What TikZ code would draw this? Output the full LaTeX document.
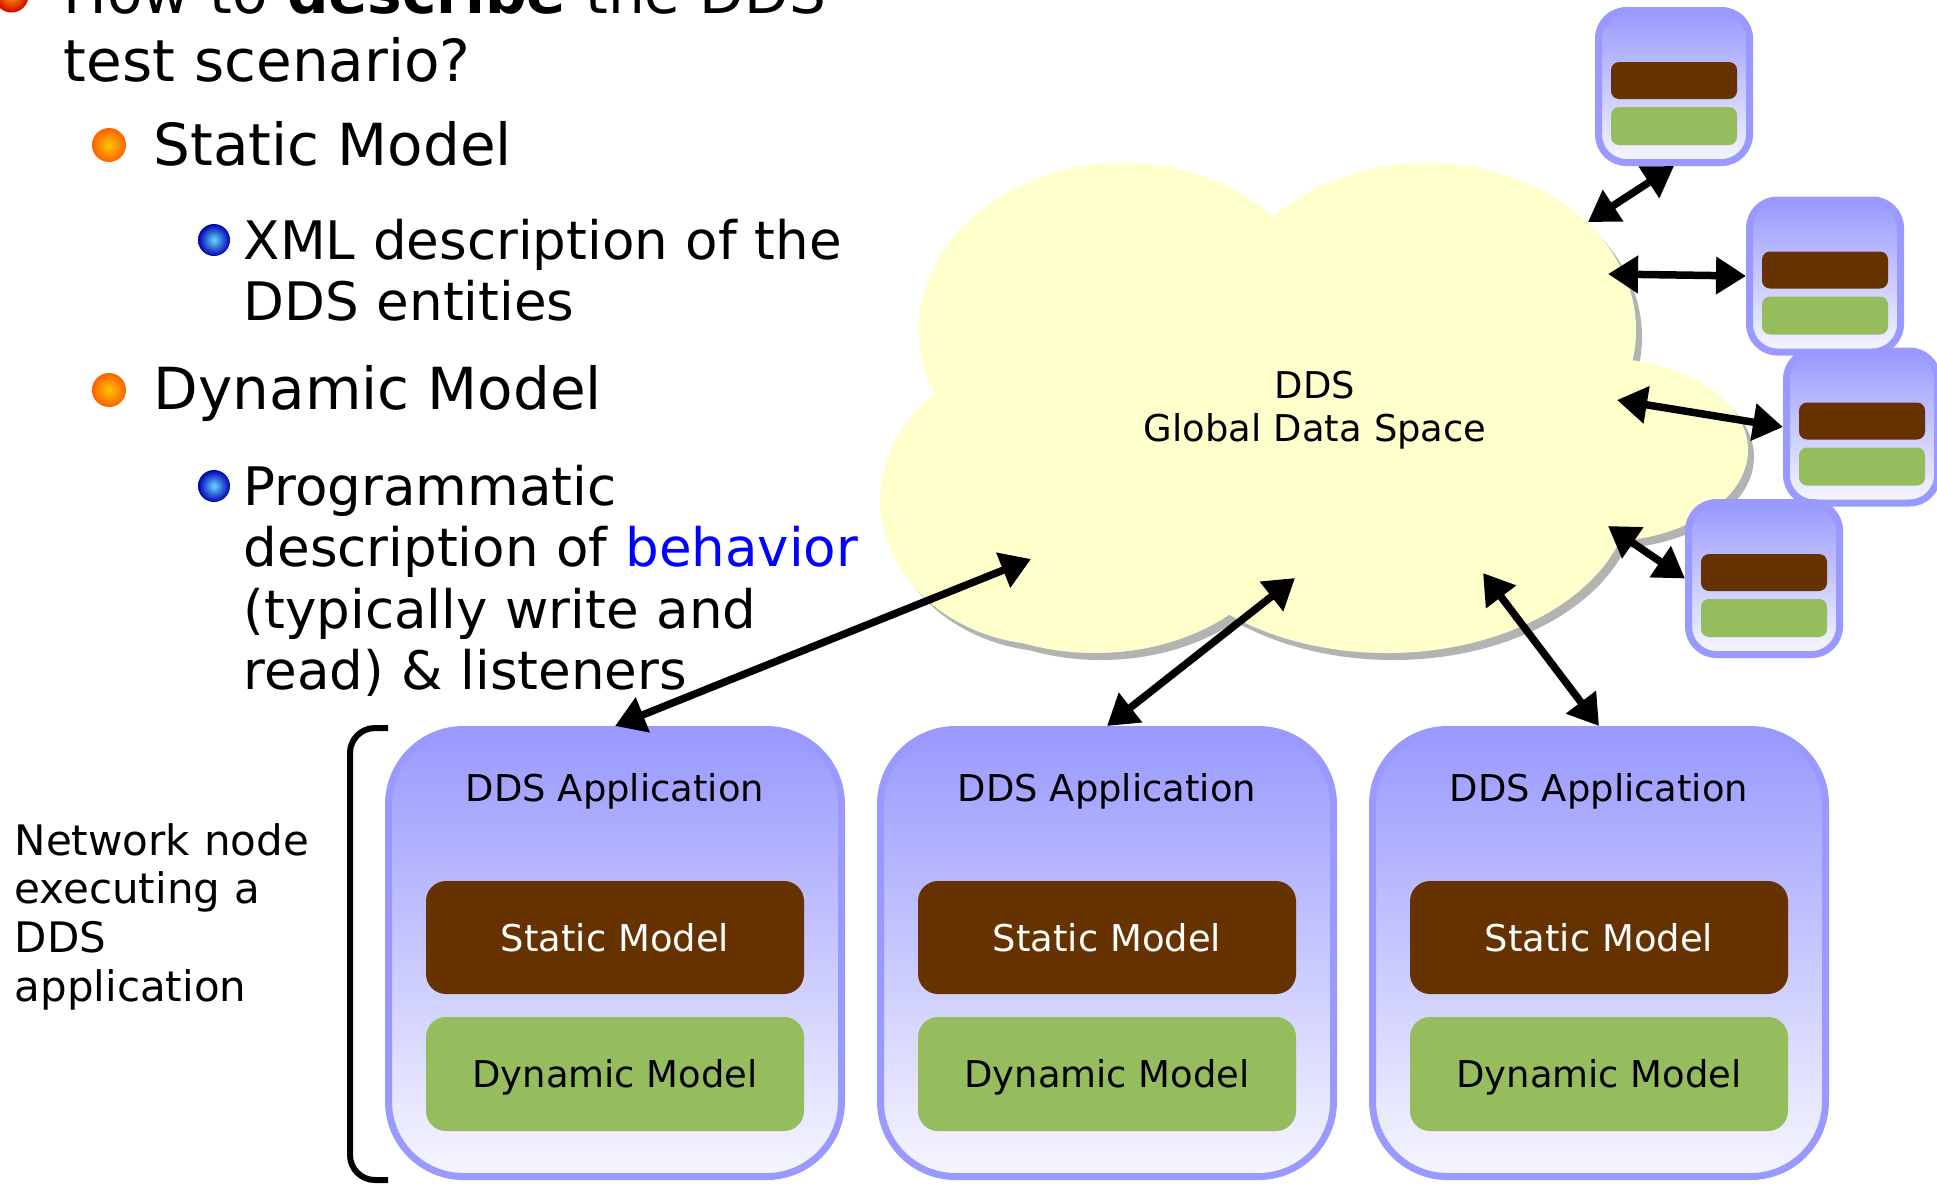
\documentclass[tikz,border=0pt]{standalone}
\usepackage{fontspec}
\setmainfont{DejaVu Sans}
\usepackage{xcolor}
\usetikzlibrary{arrows.meta,calc,positioning,shadings}
\definecolor{ddsblue}{RGB}{153,153,255}
\definecolor{ddspale}{RGB}{246,246,255}
\definecolor{ddsbrown}{RGB}{102,51,0}
\definecolor{ddsgreen}{RGB}{149,189,94}
\definecolor{cloudfill}{RGB}{255,255,204}
\definecolor{cloudshade}{RGB}{179,179,179}
\newcommand{\pxfont}[2]{\fontsize{#1}{#2}\selectfont}

\tikzset{
  appbox/.style={draw=ddsblue, line width=0.07cm, rounded corners=0.75cm, top color=ddsblue, bottom color=ddspale, minimum width=4.53cm, minimum height=4.47cm, inner sep=0pt},
  minibox/.style={draw=ddsblue, line width=0.07cm, rounded corners=0.28cm, top color=ddsblue, bottom color=ddspale, minimum width=1.51cm, minimum height=1.52cm, inner sep=0pt},
  staticbar/.style={fill=ddsbrown, rounded corners=0.2cm, minimum width=3.78cm, minimum height=1.13cm, text=white, font=\pxfont{10.5pt}{12.5pt}, text height=0.27cm, text depth=0pt, inner sep=0pt},
  dynamicbar/.style={staticbar, fill=ddsgreen, text=black, minimum height=1.14cm},
  ministatic/.style={fill=ddsbrown, rounded corners=0.08cm, minimum width=1.26cm, minimum height=0.37cm, inner sep=0pt},
  minidynamic/.style={ministatic, fill=ddsgreen, minimum height=0.38cm},
  link/.style={line width=0.075cm, {Triangle[length=3mm,width=3.6mm]}-{Triangle[length=3mm,width=3.6mm]}},
  bulletball/.style={circle, inner sep=0pt, minimum size=0.34cm, inner color=#1!35!yellow, outer color=#1},
  listtext/.style={anchor=base west, inner sep=0pt, align=left},
}

\begin{document}
\begin{tikzpicture}
\useasboundingbox (0,0) rectangle (19.37,-11.83);

% bullet list on the left
\node[bulletball=red!85!black] (b0) at (0.115,0.045) {};
\node[listtext, text width=9cm, font=\pxfont{16.5pt}{19.4pt}] (title) at (0.63,-0.13) {How to \textbf{describe} the DDS\\test scenario?};
\node[bulletball=orange!75!red] (b1) at (1.09,-1.45) {};
\node[listtext, font=\pxfont{16.5pt}{19.4pt}] (static) at (1.53,-1.65) {Static Model};
\node[circle, inner sep=0pt, minimum size=0.32cm, inner color=blue!25!cyan!60!white, outer color=blue!70!black] (b2) at (2.14,-2.40) {};
\node[listtext, text width=7cm, font=\pxfont{15.1pt}{17.5pt}] (xmldesc) at (2.43,-2.59) {XML description of the\\DDS entities};
\node[bulletball=orange!75!red] (b3) at (1.09,-3.90) {};
\node[listtext, font=\pxfont{16.5pt}{19.4pt}] (dynamic) at (1.53,-4.09) {Dynamic Model};
\node[circle, inner sep=0pt, minimum size=0.32cm, inner color=blue!25!cyan!60!white, outer color=blue!70!black] (b4) at (2.14,-4.86) {};
\node[listtext, text width=7cm, font=\pxfont{15.1pt}{17.5pt}] (progdesc) at (2.43,-5.05) {Programmatic\\description of \textcolor{blue}{behavior}\\(typically write and\\read) \& listeners};

% the global data space: shadow first, then the lobes
\foreach \dx/\dy/\col in {0.06/-0.07/cloudshade, 0/0/cloudfill}
  \fill[\col, shift={(\dx,\dy)}] (11.23,-3.30) ellipse (2.04 and 1.67) (14.27,-3.30) ellipse (2.09 and 1.67)
    (16.00,-4.50) ellipse (1.48 and 0.92) (13.87,-4.90) ellipse (2.45 and 1.63)
    (10.95,-5.05) ellipse (2.00 and 1.48) (10.50,-5.00) ellipse (1.70 and 1.45)
    (13.00,-4.20) ellipse (3.00 and 1.80);
\node[anchor=base, text width=5cm, align=center, font=\pxfont{10.5pt}{12.5pt}] (gds) at (13.15,-3.98) {DDS\\Global Data Space};

\coordinate (c1) at (10.31,-5.59);
\coordinate (c2) at (12.95,-5.78);
\coordinate (c3) at (14.83,-5.73);
\coordinate (c4) at (15.88,-2.22);
\coordinate (c5) at (16.08,-2.74);
\coordinate (c6) at (16.17,-4.00);
\coordinate (c7) at (16.08,-5.26);

% applications
\foreach \n/\x in {1/6.15, 2/11.07, 3/15.99}{
  \node[appbox] (app\n) at (\x,-9.53) {};
  \node[anchor=base, font=\pxfont{10.5pt}{12.5pt}] (apptitle\n) at ([yshift=-0.75cm]app\n.north) {DDS Application};
  \node[staticbar] (static\n) at (\x,-9.375) {Static Model};
  \node[dynamicbar] (dynamic\n) at (\x,-10.74) {Dynamic Model};
}

% small applications round the cloud
\foreach \n/\x/\y in {3/18.62/-4.27, 2/18.25/-2.76, 4/17.64/-5.785, 1/16.74/-0.865}{
  \node[minibox] (mini\n) at (\x,\y) {};
  \node[ministatic] (ministatic\n) at (\x,\y+0.06) {};
  \node[minidynamic] (minidynamic\n) at (\x,\y-0.395) {};
}

\draw[link] (app1.north) -- (c1);
\draw[link] (app2.north) -- (c2);
\draw[link] (app3.north) -- (c3);
\draw[link] (c4) -- (mini1.south);
\draw[link] (c5) -- (mini2.west);
\draw[link] (c6) -- (mini3.west);
\draw[link] (c7) -- (mini4.west);

% bracket and its label
\draw[line width=0.06cm, rounded corners=0.25cm] (3.88,-7.28) -- (3.50,-7.28) -- (3.50,-11.80) -- (3.88,-11.80);
\node[listtext, text width=3.2cm, font=\pxfont{11.95pt}{13.9pt}] (netnode) at (0.14,-8.55) {Network node\\executing a\\DDS\\application};
\end{tikzpicture}
\end{document}
